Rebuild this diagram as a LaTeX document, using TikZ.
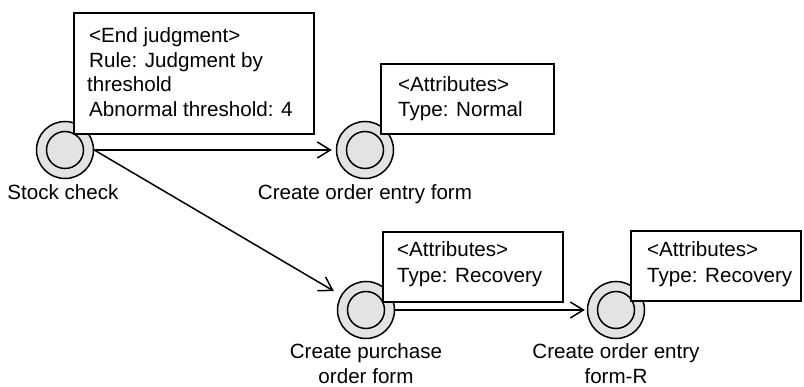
\documentclass[tikz,border=0pt]{standalone}
\usepackage{fontspec}
\setmainfont{Liberation Sans}
\usetikzlibrary{arrows.meta}
\begin{document}
\begin{tikzpicture}[x=1pt,y=-1pt,
  st/.style={circle, draw, line width=1.5pt, fill=gray!22, minimum size=57pt, inner sep=0pt,
    path picture={\draw[line width=1.5pt] (path picture bounding box.center) circle (18.5pt);}},
  box/.style={draw, line width=1.6pt, fill=white, anchor=north west, inner sep=0pt},
  txt/.style={anchor=base west, inner sep=0pt, font=\fontsize{20.6}{24.6}\selectfont},
  lbl/.style={anchor=base, inner sep=0pt, font=\fontsize{20.6}{24.6}\selectfont},
  arr/.style={line width=1.5pt, -{Straight Barb[length=13pt,width=16pt,line width=1.5pt]}}
]
\useasboundingbox (0,0) rectangle (804,387);
% states
\node[st] (s) at (65,150) {};
\node[st] (c) at (365,150) {};
\node[st] (p) at (366,310) {};
\node[st] (r) at (616,310) {};
% connectors
\draw[arr, shorten >=4pt] (s.east) -- (c.west);
\draw[arr, shorten >=8pt] (s.east) -- (p);
\draw[arr, shorten >=2pt] (p.east) -- (r.west);
% boxes
\node[box, minimum width=240pt, minimum height=121pt] (b1) at (73,12) {};
\node[box, minimum width=173pt, minimum height=70pt] (b2) at (380,63) {};
\node[box, minimum width=180pt, minimum height=70pt] (b3) at (382,231) {};
\node[box, minimum width=170pt, minimum height=70pt] (b4) at (630,230) {};
% box texts
\node[txt] (t11) at (89,43) {<End judgment>};
\node[txt] (t12) at (89,68) {Rule: Judgment by};
\node[txt] (t13) at (87,92) {threshold};
\node[txt] (t14) at (89,117) {Abnormal threshold: 4};
\node[txt] (t21) at (398,92) {<Attributes>};
\node[txt] (t22) at (398,117) {Type: Normal};
\node[txt] (t31) at (397,257) {<Attributes>};
\node[txt] (t32) at (397,283) {Type: Recovery};
\node[txt] (t41) at (647,257) {<Attributes>};
\node[txt] (t42) at (647,283) {Type: Recovery};
% labels
\node[lbl] (ls) at (63,200) {Stock check};
\node[lbl] (lc) at (365,200) {Create order entry form};
\node[lbl] (lp1) at (366,359) {Create purchase};
\node[lbl] (lp2) at (366,384) {order form};
\node[lbl] (lr1) at (616,359) {Create order entry};
\node[lbl] (lr2) at (616,384) {form-R};
\end{tikzpicture}
\end{document}
